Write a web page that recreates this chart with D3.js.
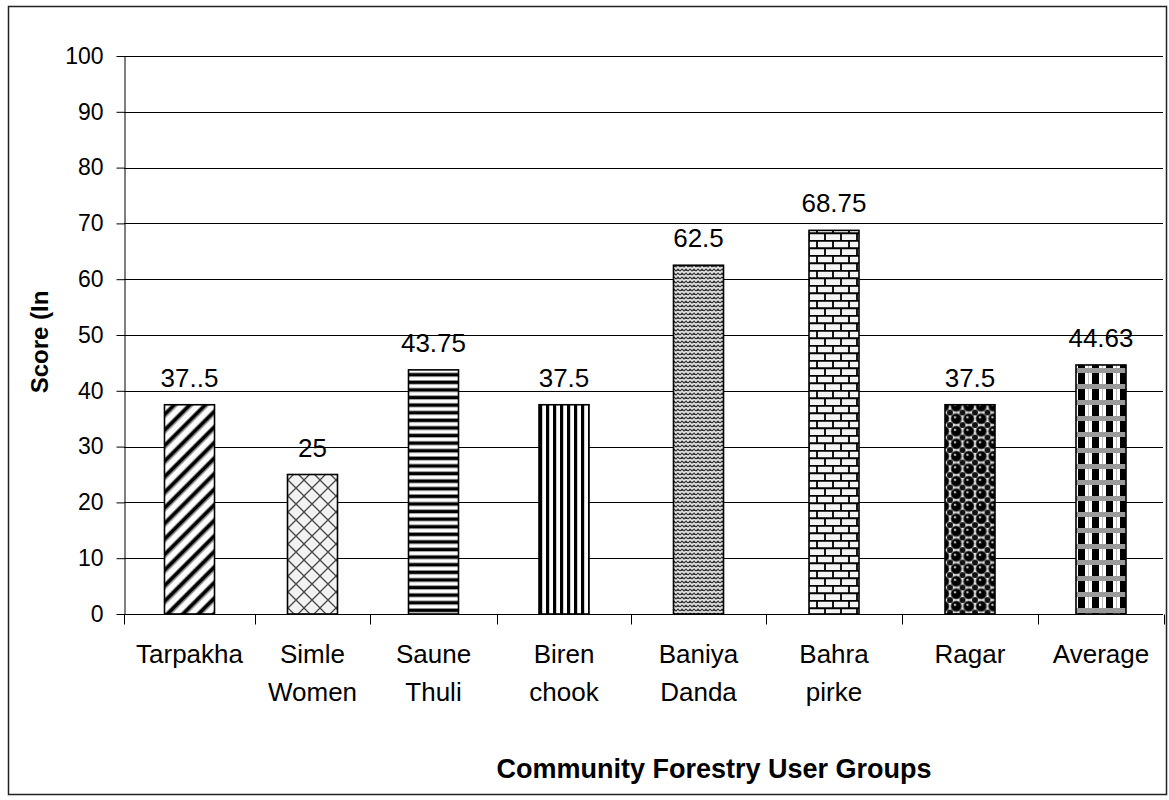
<!DOCTYPE html>
<html>
<head>
<meta charset="utf-8">
<script src="https://cdn.jsdelivr.net/npm/d3@7"></script>
<style>
  body { margin: 0; background: #fff; }
  text { font-family: "Liberation Sans", Arial, sans-serif; fill: #000; }
</style>
</head>
<body>
<svg id="chart" width="1169" height="800"></svg>
<script>
// Community forestry user groups (each entry is one label line)
const groups = [
  ["Tarpakha"], ["Simle", "Women"], ["Saune", "Thuli"], ["Biren", "chook"],
  ["Baniya", "Danda"], ["Bahra", "pirke"], ["Ragar"], ["Average"]
];
// Score (in %) per group
const scores = [37.5, 25, 43.75, 37.5, 62.5, 68.75, 37.5, 44.63];
// Printed value labels
const scoreLabels = ["37..5", "25", "43.75", "37.5", "62.5", "68.75", "37.5", "44.63"];
// Y axis ticks
const yTicks = [0, 10, 20, 30, 40, 50, 60, 70, 80, 90, 100];
// Fill pattern used by each bar
const fillIds = ["diag", "lattice", "hstripe", "vstripe", "weave", "brick", "sphere", "plaid"];

const svg = d3.select("#chart");

// ---- layout ----
const plotLeft = 124, plotRight = 1163, plotTop = 56, plotBottom = 614;
// category boundaries along the x axis (the category axis is slightly uneven)
const bounds = [124, 255, 370, 497, 631, 766, 902, 1038, 1164];
const x = d3.scaleLinear().domain(d3.range(bounds.length)).range(bounds);
const y = d3.scaleLinear().domain([0, 100]).range([plotBottom, plotTop]);
const barW = 50;

// ---- patterns ----
const defs = svg.append("defs");
function pat(id, w, h, transform) {
  const p = defs.append("pattern").attr("id", id)
    .attr("patternUnits", "userSpaceOnUse").attr("width", w).attr("height", h);
  if (transform) p.attr("patternTransform", transform);
  return p;
}
// wide diagonal stripes
{
  const p = pat("diag", 11, 11, "rotate(45)");
  p.append("rect").attr("width", 11).attr("height", 11).attr("fill", "#fff");
  p.append("rect").attr("x", 0).attr("width", 1).attr("height", 11).attr("fill", "#888");
  p.append("rect").attr("x", 1).attr("width", 3.6).attr("height", 11).attr("fill", "#000");
  p.append("rect").attr("x", 4.6).attr("width", 1).attr("height", 11).attr("fill", "#888");
}
// diagonal lattice
{
  const p = pat("lattice", 16, 16);
  p.append("rect").attr("width", 16).attr("height", 16).attr("fill", "#f2f2f2");
  p.append("path").attr("d", "M0,0L16,16M16,0L0,16")
    .attr("stroke", "#444").attr("stroke-width", 1.3).attr("fill", "none");
}
// horizontal stripes
{
  const p = pat("hstripe", 10, 7.6);
  p.append("rect").attr("width", 10).attr("height", 7.6).attr("fill", "#fff");
  p.append("rect").attr("y", 0).attr("width", 10).attr("height", 0.8).attr("fill", "#999");
  p.append("rect").attr("y", 0.8).attr("width", 10).attr("height", 3.2).attr("fill", "#000");
  p.append("rect").attr("y", 4).attr("width", 10).attr("height", 0.8).attr("fill", "#999");
}
// vertical stripes
{
  const p = pat("vstripe", 7, 10);
  p.append("rect").attr("width", 7).attr("height", 10).attr("fill", "#fff");
  p.append("rect").attr("x", 0).attr("width", 3.2).attr("height", 10).attr("fill", "#000");
}
// woven zigzag
{
  const p = pat("weave", 8, 8);
  p.append("rect").attr("width", 8).attr("height", 8).attr("fill", "#e6e6e6");
  p.append("path").attr("d", "M0,3L2,1L4,3L6,1L8,3M0,7L2,5L4,7L6,5L8,7M2,1L2,3M6,5L6,7")
    .attr("stroke", "#333").attr("stroke-width", 1.2).attr("fill", "none");
}
// bricks
{
  const p = pat("brick", 16, 15);
  p.append("rect").attr("width", 16).attr("height", 15).attr("fill", "#f4f4f4");
  p.append("path").attr("d", "M0,0.75H16M0,8.25H16M1,0.75V8.25M9,8.25V15")
    .attr("stroke", "#000").attr("stroke-width", 1.8).attr("fill", "none");
}
// dark spheres
{
  const p = pat("sphere", 12.5, 12.5);
  p.append("rect").attr("width", 12.5).attr("height", 12.5).attr("fill", "#eee");
  p.append("circle").attr("cx", 6.25).attr("cy", 6.25).attr("r", 5.3).attr("fill", "#000")
    .attr("stroke", "#555").attr("stroke-width", 0.8);
  [[0, 0], [12.5, 0], [0, 12.5], [12.5, 12.5]].forEach(([cx, cy]) =>
    p.append("circle").attr("cx", cx).attr("cy", cy).attr("r", 3).attr("fill", "#111"));
  p.append("circle").attr("cx", 5).attr("cy", 4.8).attr("r", 1.2).attr("fill", "#ccc");
}
// plaid check
{
  const p = pat("plaid", 14, 16);
  p.append("rect").attr("width", 14).attr("height", 16).attr("fill", "#fff");
  p.append("rect").attr("x", 0).attr("y", 5).attr("width", 7).attr("height", 11).attr("fill", "#000");
  p.append("rect").attr("x", 0).attr("y", 0).attr("width", 14).attr("height", 5).attr("fill", "#9a9a9a");
  p.append("path").attr("d", "M10.5,5V16").attr("stroke", "#bbb").attr("stroke-width", 1);
}

// ---- outer frame ----
svg.append("rect").attr("x", 8.5).attr("y", 6.5).attr("width", 1158).attr("height", 788)
  .attr("fill", "#fff").attr("stroke", "#222").attr("stroke-width", 1.5);

// ---- gridlines ----
svg.append("g").selectAll("line").data(yTicks.filter(d => d > 0)).join("line")
  .attr("x1", plotLeft).attr("x2", plotRight)
  .attr("y1", d => Math.round(y(d)) + 0.5).attr("y2", d => Math.round(y(d)) + 0.5)
  .attr("stroke", "#000").attr("stroke-width", 1);

// ---- y axis ----
const yAxis = svg.append("g").attr("transform", `translate(${plotLeft + 0.5},0)`)
  .call(d3.axisLeft(y).tickValues(yTicks).tickSize(8).tickPadding(13).tickSizeOuter(0));
yAxis.select(".domain").attr("stroke", "#000");
yAxis.selectAll(".tick line").attr("stroke", "#000");
yAxis.selectAll(".tick text").attr("font-size", 23).attr("font-family", "Liberation Sans, Arial, sans-serif");

// ---- bars ----
svg.append("g").selectAll("rect").data(scores).join("rect")
  .attr("x", (d, i) => x(i + 0.5) - barW / 2)
  .attr("y", d => y(d))
  .attr("width", barW)
  .attr("height", d => y(0) - y(d))
  .attr("fill", (d, i) => `url(#${fillIds[i]})`)
  .attr("stroke", "#000").attr("stroke-width", 1.6);

// ---- x axis ----
const xAxis = svg.append("g").attr("transform", `translate(0,${plotBottom + 0.5})`);
xAxis.append("line").attr("x1", plotLeft).attr("x2", plotRight).attr("stroke", "#000");
xAxis.selectAll(".tk").data(bounds).join("line").attr("class", "tk")
  .attr("x1", d => Math.round(d) + 0.5).attr("x2", d => Math.round(d) + 0.5)
  .attr("y1", 0).attr("y2", 10).attr("stroke", "#000");

// category labels
svg.append("g").selectAll("text").data(groups).join("text")
  .attr("x", (d, i) => x(i + 0.5))
  .attr("y", 663)
  .attr("text-anchor", "middle")
  .attr("font-size", 26)
  .each(function (lines) {
    d3.select(this).selectAll("tspan").data(lines).join("tspan")
      .attr("x", d3.select(this).attr("x"))
      .attr("dy", (l, j) => j === 0 ? 0 : 38)
      .text(l => l);
  });

// ---- value labels ----
svg.append("g").selectAll("text").data(scores).join("text")
  .attr("x", (d, i) => x(i + 0.5))
  .attr("y", d => y(d) - 18)
  .attr("text-anchor", "middle")
  .attr("font-size", 26)
  .text((d, i) => scoreLabels[i]);

// ---- axis titles ----
svg.append("text")
  .attr("transform", "translate(48,342) rotate(-90)")
  .attr("text-anchor", "middle")
  .attr("font-size", 24).attr("font-weight", "bold")
  .text("Score (In");

svg.append("text")
  .attr("x", 714).attr("y", 778)
  .attr("text-anchor", "middle")
  .attr("font-size", 27).attr("font-weight", "bold")
  .text("Community Forestry User Groups");
</script>
</body>
</html>
